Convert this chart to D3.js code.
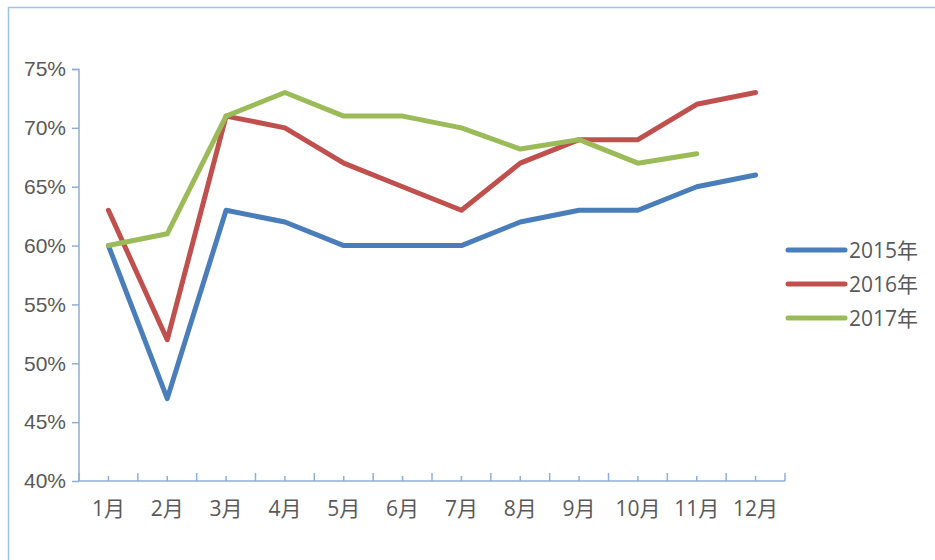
<!DOCTYPE html>
<html>
<head>
<meta charset="utf-8">
<script src="https://cdn.jsdelivr.net/npm/d3@7"></script>
<style>
  body { margin: 0; background: #fff; }
  svg { display: block; font-family: "Open Sans", "Noto Sans CJK SC", sans-serif; }
  .axis path, .axis line { stroke: #8faed6; stroke-width: 1.5; }
  .axis text { fill: #595959; font-size: 21px; }
  .legend text { fill: #595959; font-size: 21px; }
</style>
</head>
<body>
<script>
var W = 935, H = 560;
var margin = { top: 69, right: 150, bottom: 79, left: 79 },
    width = W - margin.left - margin.right,
    height = H - margin.top - margin.bottom;

// data
var months = ["1月", "2月", "3月", "4月", "5月", "6月", "7月", "8月", "9月", "10月", "11月", "12月"];
var yearNames = ["2015年", "2016年", "2017年"];
var colors = ["#4a7ebb", "#c0504d", "#9bbb59"];
var v2015 = [60, 47, 63, 62, 60, 60, 60, 62, 63, 63, 65, 66];
var v2016 = [63, 52, 71, 70, 67, 65, 63, 67, 69, 69, 72, 73];
var v2017 = [60, 61, 71, 73, 71, 71, 70, 68.2, 69, 67, 67.8];
var yTicks = [40, 45, 50, 55, 60, 65, 70, 75];

var series = [v2015, v2016, v2017].map(function (vals, i) {
    return { name: yearNames[i], color: colors[i], values: vals.map(function (v, j) { return { m: months[j], v: v }; }) };
});

var svg = d3.select("body").append("svg")
    .attr("width", W)
    .attr("height", H);

// outer chart border
svg.append("rect")
    .attr("x", 8.5).attr("y", 7.5)
    .attr("width", W).attr("height", H)
    .attr("fill", "none")
    .attr("stroke", "#a4c2e0")
    .attr("stroke-width", 1.5);

var g = svg.append("g")
    .attr("transform", "translate(" + margin.left + "," + margin.top + ")");

var xScale = d3.scaleBand().domain(months).range([0, width]);
var yScale = d3.scaleLinear().domain([40, 75]).range([height, 0]);

// y axis
g.append("g")
    .attr("class", "axis")
    .call(d3.axisLeft(yScale)
        .tickValues(yTicks)
        .tickSize(7)
        .tickPadding(6)
        .tickFormat(function (d) { return d + "%"; }))
    .call(function (a) { a.select(".domain").attr("d", "M-7,0.5H0V" + height); });

// x axis: tall ticks at band edges, short at centers
var xa = g.append("g")
    .attr("class", "axis")
    .attr("transform", "translate(0," + height + ")");
xa.append("line").attr("x1", 0).attr("x2", width).attr("y1", 0).attr("y2", 0);
xa.selectAll(".edge")
    .data(months.concat(["end"]))
    .enter().append("line")
    .attr("class", "edge")
    .attr("x1", function (d, i) { return i * xScale.step(); })
    .attr("x2", function (d, i) { return i * xScale.step(); })
    .attr("y1", 0).attr("y2", -8);
xa.selectAll(".mid")
    .data(months)
    .enter().append("line")
    .attr("class", "mid")
    .attr("x1", function (d) { return xScale(d) + xScale.bandwidth() / 2; })
    .attr("x2", function (d) { return xScale(d) + xScale.bandwidth() / 2; })
    .attr("y1", 0).attr("y2", -5);
xa.selectAll("text")
    .data(months)
    .enter().append("text")
    .attr("x", function (d) { return xScale(d) + xScale.bandwidth() / 2; })
    .attr("y", 35)
    .attr("text-anchor", "middle")
    .text(function (d) { return d; });

// lines
var line = d3.line()
    .x(function (d) { return xScale(d.m) + xScale.bandwidth() / 2; })
    .y(function (d) { return yScale(d.v); });

g.selectAll(".series")
    .data(series)
    .enter().append("path")
    .attr("class", "series")
    .attr("fill", "none")
    .attr("stroke", function (d) { return d.color; })
    .attr("stroke-width", 5)
    .attr("stroke-linejoin", "round")
    .attr("stroke-linecap", "round")
    .attr("d", function (d) { return line(d.values); });

// legend
var legend = svg.append("g")
    .attr("class", "legend")
    .attr("transform", "translate(788,250)");
legend.selectAll("line")
    .data(series)
    .enter().append("line")
    .attr("x1", 0).attr("x2", 57)
    .attr("y1", function (d, i) { return i * 34; })
    .attr("y2", function (d, i) { return i * 34; })
    .attr("stroke", function (d) { return d.color; })
    .attr("stroke-width", 5)
    .attr("stroke-linecap", "round");
legend.selectAll("text")
    .data(series)
    .enter().append("text")
    .attr("x", 61)
    .attr("y", function (d, i) { return i * 34 + 7.5; })
    .text(function (d) { return d.name; });
</script>
</body>
</html>
